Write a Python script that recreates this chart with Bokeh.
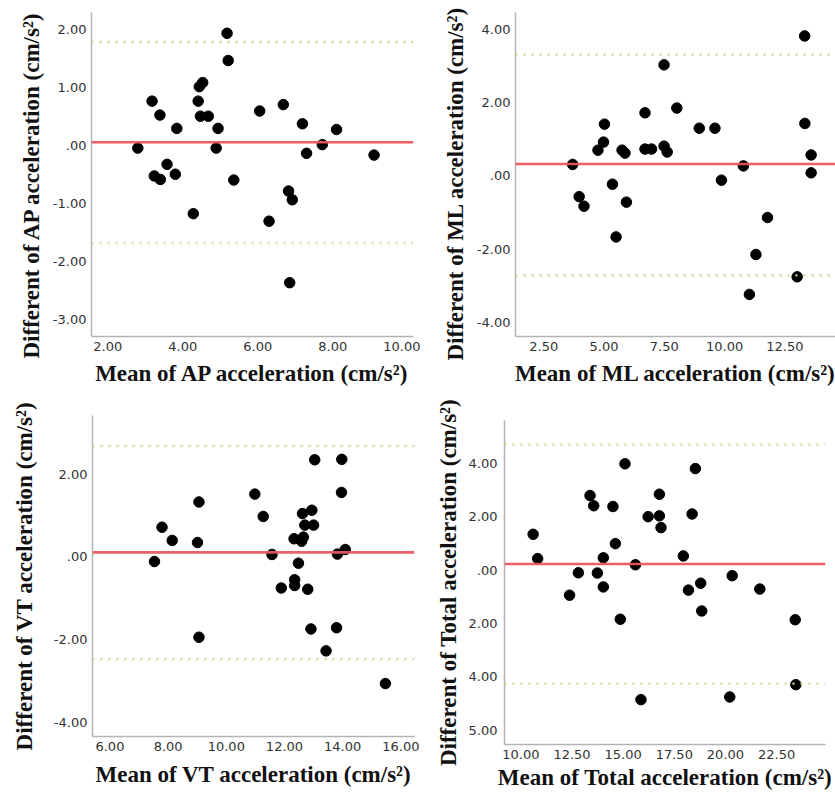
from bokeh.plotting import figure
from bokeh.layouts import row, column
from bokeh.models import FixedTicker, Range1d, Span, Title
from bokeh.embed import file_html
from bokeh.resources import INLINE

# ---------------- data ----------------
ap_mean = [2.80, 3.18, 3.24, 3.40, 3.39, 3.58, 3.80, 3.84, 4.28, 4.41, 4.44, 4.53, 4.47, 4.68, 4.94,
           4.89, 5.18, 5.21, 5.36, 6.05, 6.30, 6.68, 6.82, 6.92, 6.85, 7.19, 7.30, 7.72, 8.10, 9.10]
ap_diff = [-0.04, 0.77, -0.52, -0.58, 0.53, -0.32, -0.49, 0.30, -1.17, 0.77, 1.02, 1.09, 0.51, 0.51, 0.30,
           -0.04, 1.94, 1.47, -0.59, 0.60, -1.30, 0.71, -0.78, -0.93, -2.36, 0.38, -0.13, 0.02, 0.28, -0.16]
ap_bias, ap_upper, ap_lower = 0.06, 1.79, -1.68
ap_xticks = [2, 4, 6, 8, 10]
ap_yticks = [2, 1, 0, -1, -2, -3]

ml_mean = [3.70, 3.97, 4.17, 4.75, 4.98, 5.02, 5.35, 5.50, 5.75, 5.87, 5.93, 6.70, 6.70, 6.97, 7.49,
           7.49, 7.62, 8.02, 8.95, 9.60, 9.87, 10.78, 11.03, 11.30, 11.78, 13.01, 13.32, 13.33, 13.59, 13.59]
ml_diff = [0.31, -0.57, -0.83, 0.70, 0.92, 1.41, -0.23, -1.67, 0.70, 0.62, -0.72, 1.72, 0.73, 0.73, 3.03,
           0.81, 0.65, 1.85, 1.30, 1.30, -0.12, 0.27, -3.24, -2.15, -1.14, -2.76, 3.82, 1.43, 0.57, 0.08]
ml_bias, ml_upper, ml_lower = 0.32, 3.30, -2.72
ml_xticks = [2.5, 5, 7.5, 10, 12.5]
ml_yticks = [4, 2, 0, -2, -4]

vt_mean = [7.53, 7.79, 8.14, 9.01, 9.06, 9.06, 10.98, 11.27, 11.57, 11.89, 12.33, 12.35, 12.35, 12.48, 12.59,
           12.65, 12.62, 12.70, 12.80, 12.94, 13.00, 12.91, 13.04, 13.43, 13.79, 13.82, 13.97, 13.96, 14.09, 15.47]
vt_diff = [-0.11, 0.72, 0.40, 0.35, 1.33, -1.94, 1.52, 0.98, 0.06, -0.75, 0.44, -0.55, -0.69, -0.15, 0.38,
           0.48, 1.05, 0.77, -0.78, 1.13, 0.77, -1.74, 2.35, -2.27, -1.71, 0.07, 2.36, 1.56, 0.18, -3.06]
vt_bias, vt_upper, vt_lower = 0.11, 2.68, -2.47
vt_xticks = [6, 8, 10, 12, 14, 16]
vt_yticks = [2, 0, -2, -4]

tot_mean = [10.60, 10.82, 12.38, 12.81, 13.38, 13.56, 13.74, 14.03, 14.03, 14.50, 14.62, 14.86, 15.09, 15.60, 15.87,
            16.22, 16.77, 16.77, 16.85, 17.94, 18.19, 18.37, 18.53, 18.79, 18.84, 20.21, 20.33, 21.68, 23.41, 23.44]
tot_diff = [1.34, 0.43, -0.94, -0.10, 2.79, 2.41, -0.11, 0.46, -0.63, 2.38, 0.99, -1.84, 3.98, 0.20, -4.85,
            2.00, 2.84, 2.03, 1.59, 0.53, -0.75, 2.10, 3.80, -0.49, -1.53, -4.75, -0.21, -0.71, -1.86, -4.29]
tot_bias, tot_upper, tot_lower = 0.23, 4.70, -4.25
tot_xticks = [10, 12.5, 15, 17.5, 20, 22.5]
tot_yticks = [4, 2, 0, -2, -4, -6]
tot_ylabels = ["4.00", "2.00", ".00", "2.00", "4.00", "5.00"]

LABEL_FONT = "Liberation Serif"
TICK_FONT = "DejaVu Sans"


def fmt(v):
    if abs(v) < 1e-9:
        return ".00"
    return f"{v:.2f}"


def panel(name, xs, ys, bias, upper, lower, xticks, yticks, xr, yr, w, h, borders,
          ylabels=None, xstand=7, ystand=14, ylab_standoff=5, xlab_standoff=5,
          ytitle_offset=None):
    p = figure(width=w, height=h, x_range=Range1d(*xr), y_range=Range1d(*yr),
               output_backend="svg", toolbar_location=None,
               min_border_left=borders[0], min_border_right=borders[1],
               min_border_top=borders[2], min_border_bottom=borders[3])
    p.outline_line_color = None
    p.grid.visible = False
    p.background_fill_color = "white"
    p.border_fill_color = "white"

    p.xaxis.ticker = FixedTicker(ticks=xticks)
    p.yaxis.ticker = FixedTicker(ticks=yticks)
    p.xaxis.major_label_overrides = {t: fmt(t) for t in xticks}
    if ylabels is None:
        p.yaxis.major_label_overrides = {t: fmt(t) for t in yticks}
    else:
        p.yaxis.major_label_overrides = dict(zip(yticks, ylabels))

    for ax in (p.xaxis, p.yaxis):
        ax.major_tick_line_color = None
        ax.minor_tick_line_color = None
        ax.major_tick_out = 0
        ax.major_tick_in = 0
        ax.minor_tick_out = 0
        ax.axis_line_color = "#b3b3b3"
        ax.axis_line_width = 1.5
        ax.major_label_text_font = TICK_FONT
        ax.major_label_text_font_size = "13px"
        ax.major_label_text_color = "#333333"
        ax.axis_label_text_font = LABEL_FONT
        ax.axis_label_text_font_style = "bold"
        ax.axis_label_text_font_size = "23px"
        ax.axis_label_text_color = "#111111"
    p.xaxis.major_label_standoff = xlab_standoff
    p.yaxis.major_label_standoff = ylab_standoff
    p.xaxis.axis_label_standoff = xstand
    p.yaxis.axis_label_standoff = ystand
    p.xaxis.axis_label = f"Mean of {name} acceleration (cm/s\u00b2)"
    ytext = f"Different of {name} acceleration (cm/s\u00b2)"
    if ytitle_offset is None:
        p.yaxis.axis_label = ytext
    else:
        p.add_layout(Title(text=ytext, align="left", offset=ytitle_offset,
                           text_font=LABEL_FONT, text_font_style="bold",
                           text_font_size="23px", text_color="#111111",
                           standoff=ystand), "left")

    for loc in (upper, lower):
        p.add_layout(Span(location=loc, dimension="width", line_color="#d3d69c",
                          line_width=2.2, line_dash="2 6"))
    p.add_layout(Span(location=bias, dimension="width", line_color="#e8585c",
                      line_width=2.6, line_alpha=0.95))
    p.scatter(xs, ys, size=10.5, fill_color="black", line_color="black")
    return p


p1 = panel("AP", ap_mean, ap_diff, ap_bias, ap_upper, ap_lower, ap_xticks, ap_yticks,
           (1.565, 10.152), (-3.288, 2.298), 420, 400, (91, 7, 12, 64),
           ytitle_offset=-22, ystand=12)
p2 = panel("ML", ml_mean, ml_diff, ml_bias, ml_upper, ml_lower, ml_xticks, ml_yticks,
           (1.33, 14.60), (-4.39, 4.46), 415, 400, (95, 0, 12, 64),
           ytitle_offset=-24, ystand=12)
p3 = panel("VT", vt_mean, vt_diff, vt_bias, vt_upper, vt_lower, vt_xticks, vt_yticks,
           (5.40, 16.47), (-4.34, 3.42), 420, 394, (92, 6, 15, 58), xstand=8)
p4 = panel("Total", tot_mean, tot_diff, tot_bias, tot_upper, tot_lower, tot_xticks, tot_yticks,
           (9.20, 24.89), (-6.53, 5.60), 415, 394, (84, 10, 20, 50), ylabels=tot_ylabels,
           xstand=3, ystand=5, ylab_standoff=7, xlab_standoff=5)

layout = column(row(column(p1), column(p2), spacing=0),
                row(column(p3), column(p4), spacing=0), spacing=0)
open("out.html", "w").write(file_html(layout, INLINE))
